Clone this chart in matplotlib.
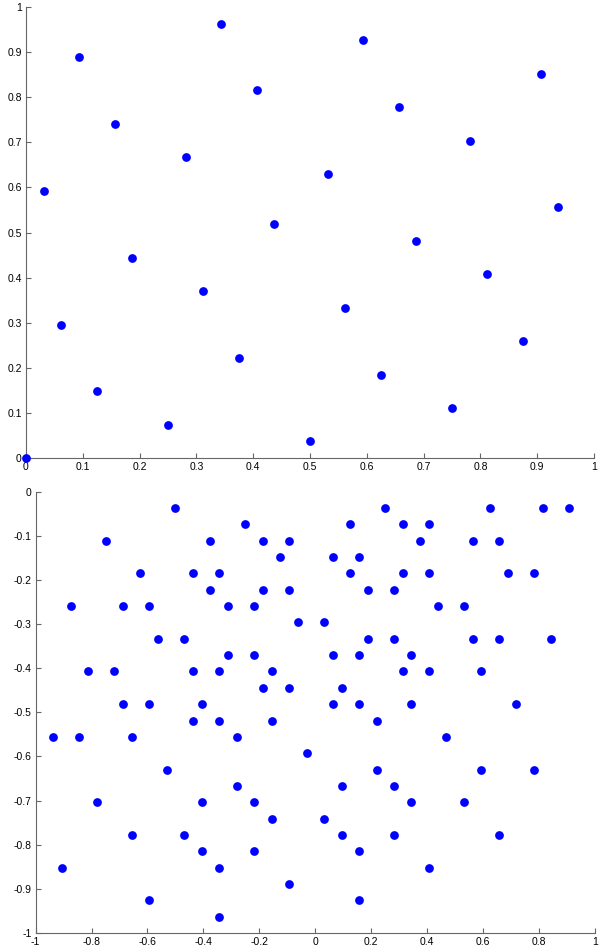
import matplotlib

matplotlib.use("Agg")
import matplotlib.pyplot as plt
from matplotlib.ticker import FuncFormatter, MultipleLocator

# top panel: 27 points
top_x = [0.0, 0.5, 0.25, 0.75, 0.125, 0.625, 0.375, 0.875, 0.0625, 0.5625,
         0.3125, 0.8125, 0.1875, 0.6875, 0.4375, 0.9375, 0.031, 0.531,
         0.281, 0.781, 0.156, 0.656, 0.406, 0.906, 0.094, 0.594, 0.344]
top_y = [0.0, 0.037, 0.074, 0.111, 0.148, 0.185, 0.222, 0.259, 0.296, 0.333,
         0.370, 0.407, 0.444, 0.481, 0.519, 0.556, 0.593, 0.630, 0.667, 0.704,
         0.741, 0.778, 0.815, 0.852, 0.889, 0.926, 0.963]

# bottom panel: points grouped by row (y level)
bottom_rows = [
    (-0.037, [-0.5, 0.25, 0.625, 0.813, 0.906]),
    (-0.074, [-0.25, 0.125, 0.313, 0.406]),
    (-0.111, [-0.75, -0.375, -0.188, -0.094, 0.375, 0.563, 0.656]),
    (-0.148, [-0.125, 0.063, 0.156]),
    (-0.185, [-0.625, -0.438, -0.344, 0.125, 0.313, 0.406, 0.688, 0.781]),
    (-0.222, [-0.375, -0.188, -0.094, 0.188, 0.281]),
    (-0.259, [-0.875, -0.688, -0.594, -0.313, -0.219, 0.438, 0.531]),
    (-0.296, [-0.063, 0.031]),
    (-0.333, [-0.563, -0.469, 0.188, 0.281, 0.563, 0.656, 0.844]),
    (-0.370, [-0.313, -0.219, 0.063, 0.156, 0.344]),
    (-0.407, [-0.813, -0.719, -0.438, -0.344, -0.156, 0.313, 0.406, 0.594]),
    (-0.444, [-0.188, -0.094, 0.094]),
    (-0.481, [-0.688, -0.594, -0.406, 0.063, 0.156, 0.344, 0.719]),
    (-0.519, [-0.438, -0.344, -0.156, 0.219]),
    (-0.556, [-0.938, -0.844, -0.656, -0.281, 0.469]),
    (-0.593, [-0.031]),
    (-0.630, [-0.531, 0.219, 0.594, 0.781]),
    (-0.667, [-0.281, 0.094, 0.281]),
    (-0.704, [-0.781, -0.406, -0.219, 0.344, 0.531]),
    (-0.741, [-0.156, 0.031]),
    (-0.778, [-0.656, -0.469, 0.094, 0.281, 0.656]),
    (-0.815, [-0.406, -0.219, 0.156]),
    (-0.852, [-0.906, -0.344, 0.406]),
    (-0.889, [-0.094]),
    (-0.926, [-0.594, 0.156]),
    (-0.963, [-0.344]),
]

bottom_x = [x for _, xs in bottom_rows for x in xs]
bottom_y = [y for y, xs in bottom_rows for _ in xs]

plt.rcParams["axes.unicode_minus"] = False
plt.rcParams["font.family"] = ["Liberation Sans", "DejaVu Sans"]

MARKER = dict(linestyle="none", marker="o", color="#0000ff",
              markersize=6.3, markeredgewidth=0, clip_on=False, zorder=3)


def style_axes(ax):
    ax.spines["top"].set_visible(False)
    ax.spines["right"].set_visible(False)
    for side in ("left", "bottom"):
        ax.spines[side].set_color("0.4")
        ax.spines[side].set_linewidth(0.8)
    ax.tick_params(direction="in", length=3.8, width=0.8, color="0.4",
                   labelsize=7.5, labelcolor="black", pad=3)
    fmt = FuncFormatter(lambda v, _: "%g" % round(v, 6))
    ax.xaxis.set_major_formatter(fmt)
    ax.yaxis.set_major_formatter(fmt)


fig = plt.figure(figsize=(6.0, 9.52), dpi=100)

ax1 = fig.add_axes([0.0433, 0.5189, 0.9467, 0.4737])
ax1.plot(top_x, top_y, **MARKER)
ax1.set_xlim(0, 1)
ax1.set_ylim(0, 1)
ax1.xaxis.set_major_locator(MultipleLocator(0.1))
ax1.yaxis.set_major_locator(MultipleLocator(0.1))
style_axes(ax1)

ax2 = fig.add_axes([0.0593, 0.0200, 0.9323, 0.4636])
ax2.plot(bottom_x, bottom_y, **MARKER)
ax2.set_xlim(-1, 1)
ax2.set_ylim(-1, 0)
ax2.xaxis.set_major_locator(MultipleLocator(0.2))
ax2.yaxis.set_major_locator(MultipleLocator(0.1))
style_axes(ax2)

fig.savefig("out.png", dpi=100)
plt.close(fig)
